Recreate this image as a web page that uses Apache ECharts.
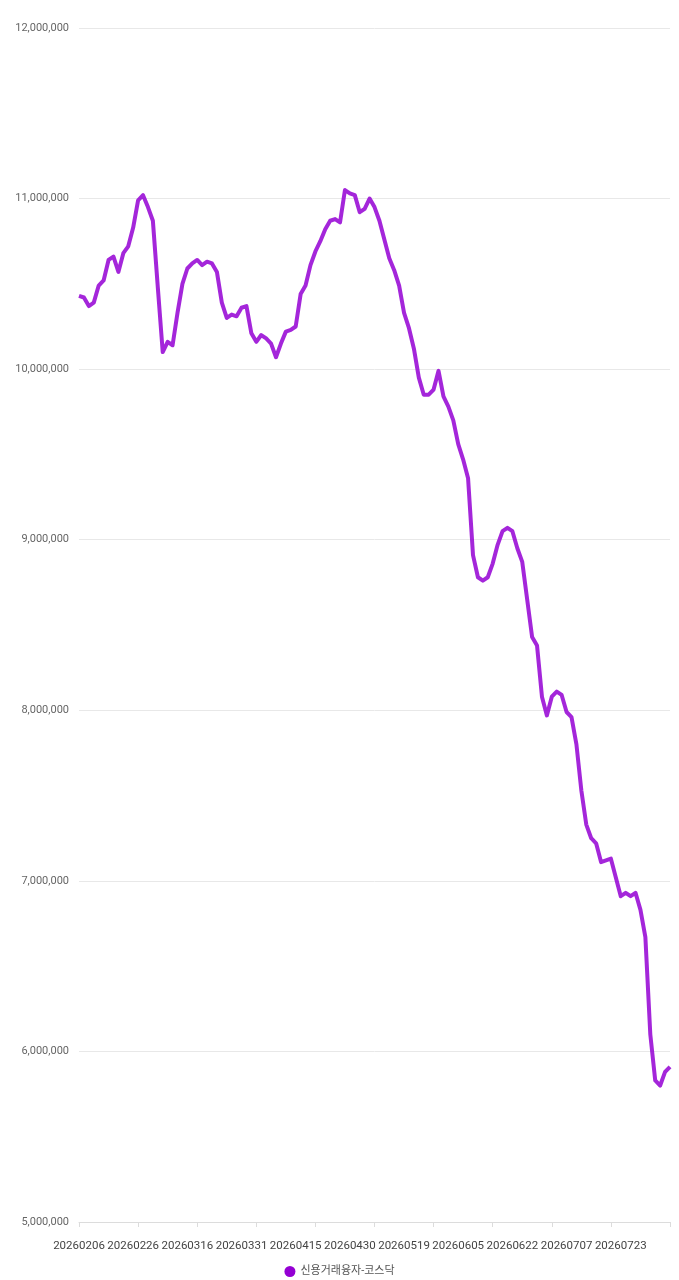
<!DOCTYPE html>
<html>
<head>
<meta charset="utf-8">
<script src="https://cdn.jsdelivr.net/npm/echarts@6/dist/echarts.min.js"></script>
<style>
    html, body { margin: 0; padding: 0; background: #fff; }
    #container { width: 679px; height: 1280px; }
</style>
</head>
<body>
<div id="container"></div>
<script>
// 거래일 (category axis)
var dates = [
    '20260206', '20260209', '20260210', '20260211', '20260212', '20260213', '20260219', '20260220',
    '20260223', '20260224', '20260225', '20260226', '20260227', '20260303', '20260304', '20260305',
    '20260306', '20260309', '20260310', '20260311', '20260312', '20260313', '20260316', '20260317',
    '20260318', '20260319', '20260320', '20260323', '20260324', '20260325', '20260326', '20260327',
    '20260330', '20260331', '20260401', '20260402', '20260403', '20260406', '20260407', '20260408',
    '20260409', '20260410', '20260413', '20260414', '20260415', '20260416', '20260417', '20260420',
    '20260421', '20260422', '20260423', '20260424', '20260427', '20260428', '20260429', '20260430',
    '20260504', '20260506', '20260507', '20260508', '20260511', '20260512', '20260513', '20260514',
    '20260515', '20260518', '20260519', '20260520', '20260521', '20260522', '20260526', '20260527',
    '20260528', '20260529', '20260601', '20260602', '20260604', '20260605', '20260608', '20260609',
    '20260610', '20260611', '20260612', '20260615', '20260616', '20260617', '20260618', '20260619',
    '20260622', '20260623', '20260624', '20260625', '20260626', '20260629', '20260630', '20260701',
    '20260702', '20260703', '20260706', '20260707', '20260708', '20260709', '20260710', '20260713',
    '20260714', '20260715', '20260716', '20260720', '20260721', '20260722', '20260723', '20260724',
    '20260727', '20260728', '20260729', '20260730', '20260731', '20260803', '20260804', '20260805',
    '20260806'
];

// 신용거래융자-코스닥 (단위: 천)
var kosdaqK = [
    10430, 10420, 10370, 10390, 10490, 10520, 10640, 10660, 10570, 10680,
    10720, 10830, 10990, 11020, 10950, 10870, 10480, 10100, 10160, 10140,
    10330, 10500, 10590, 10620, 10640, 10610, 10630, 10620, 10570, 10390,
    10300, 10320, 10310, 10360, 10370, 10210, 10160, 10200, 10180, 10150,
    10070, 10150, 10220, 10230, 10250, 10440, 10490, 10610, 10690, 10750,
    10820, 10870, 10880, 10860, 11050, 11030, 11020, 10920, 10940, 11000,
    10950, 10870, 10760, 10650, 10580, 10490, 10330, 10240, 10120, 9950,
    9850, 9850, 9880, 9990, 9840, 9780, 9700, 9560, 9470, 9360,
    8910, 8780, 8760, 8780, 8860, 8970, 9050, 9070, 9050, 8950,
    8870, 8650, 8430, 8380, 8080, 7970, 8080, 8110, 8090, 7990,
    7960, 7800, 7530, 7330, 7250, 7220, 7110, 7120, 7130, 7020,
    6910, 6930, 6910, 6930, 6830, 6670, 6100, 5830, 5800, 5880,
    5910
];

var seriesName = '신용거래융자-코스닥';
var yMin = 5000000, yMax = 12000000, yStep = 1000000;

var kosdaq = kosdaqK.map(function (v) { return v * 1000; });

var dom = document.getElementById('container');
var myChart = echarts.init(dom);
var font = 'Roboto, "Noto Sans CJK KR", sans-serif';

var option = {
    animation: false,
    textStyle: { fontFamily: font },
    grid: { left: 79, right: 9, top: 28, bottom: 58 },
    legend: {
        bottom: 3,
        left: 'center',
        padding: [0, 5],
        icon: 'circle',
        itemWidth: 11,
        itemHeight: 11,
        itemGap: 4,
        textStyle: { color: '#555', fontSize: 11, fontFamily: font },
        data: [seriesName]
    },
    xAxis: {
        type: 'category',
        data: dates,
        boundaryGap: false,
        axisLine: { lineStyle: { color: '#dcdcdc' } },
        axisTick: { interval: 11, lineStyle: { color: '#dcdcdc' } },
        axisLabel: {
            interval: 10,
            margin: 18,
            color: '#444',
            fontSize: 11.5,
            fontFamily: font
        },
        splitLine: { show: false }
    },
    yAxis: {
        type: 'value',
        min: yMin,
        max: yMax,
        interval: yStep,
        axisLine: { show: false },
        axisTick: { show: false },
        axisLabel: { color: '#666', fontSize: 11, margin: 10, fontFamily: font },
        splitLine: { lineStyle: { color: '#e8e8e8' } }
    },
    series: [{
        name: seriesName,
        type: 'line',
        data: kosdaq,
        showSymbol: false,
        symbol: 'circle',
        itemStyle: { color: '#9400d3' },
        lineStyle: { color: '#9400d3', width: 4, opacity: 0.85, join: 'round' }
    }]
};

myChart.setOption(option);
</script>
</body>
</html>
